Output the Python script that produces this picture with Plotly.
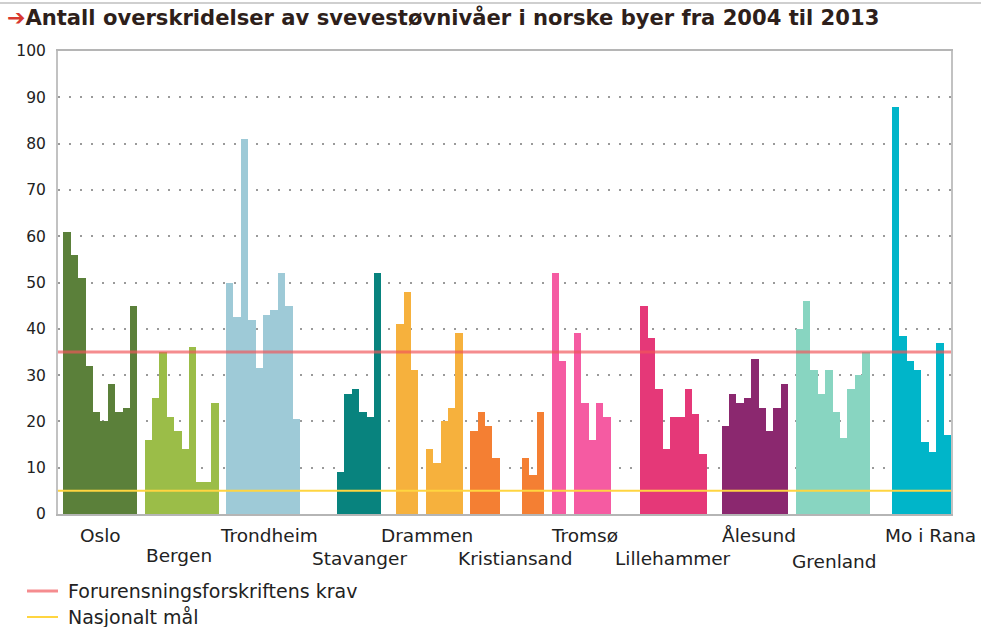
import plotly.graph_objects as go

# ---------------- data ----------------
cities = ["Oslo", "Bergen", "Trondheim", "Stavanger", "Drammen", "Kristiansand",
          "Tromsø", "Lillehammer", "Ålesund", "Grenland", "Mo i Rana"]
years = [2004, 2005, 2006, 2007, 2008, 2009, 2010, 2011, 2012, 2013]

oslo = [61, 56, 51, 32, 22, 20, 28, 22, 23, 45]
bergen = [16, 25, 35, 21, 18, 14, 36, 7, 7, 24]
trondheim = [50, 42.5, 81, 42, 31.5, 43, 44, 52, 45, 20.5]
stavanger = [None, None, None, None, 9, 26, 27, 22, 21, 52]
drammen = [None, 41, 48, 31, None, 14, 11, 20, 23, 39]
kristiansand = [18, 22, 19, 12, None, None, None, 12, 8.5, 22]
tromso = [52, 33, None, 39, 24, 16, 24, 21, None, None]
lillehammer = [None, 45, 38, 27, 14, 21, 21, 27, 21.5, 13]
alesund = [None, 19, 26, 24, 25, 33.5, 23, 18, 23, 28]
grenland = [40, 46, 31, 26, 31, 22, 16.5, 27, 30, 35]
mo_i_rana = [None, None, 88, 38.5, 33, 31, 15.5, 13.5, 37, 17]

series = [oslo, bergen, trondheim, stavanger, drammen, kristiansand,
          tromso, lillehammer, alesund, grenland, mo_i_rana]

krav = 35            # Forurensningsforskriftens krav
nasjonalt_maal = 5   # Nasjonalt mål
y_ticks = [0, 10, 20, 30, 40, 50, 60, 70, 80, 90, 100]

# ---------------- style ----------------
colors = ["#5b803a", "#9bbd48", "#9ecad7", "#08837e", "#f6b13d", "#f47f33",
          "#f55ba2", "#e53878", "#8b286f", "#88d5c1", "#00b5c9"]
label_shift = [0, -0.4, 0.8, 2.0, 0.2, 1.0, -0.6, 0.4, 1.1, 0.3, 2.2]
label_row = [-21, -41, -21, -44, -21, -44, -21, -44, -21, -47, -21]
group = len(years) + 1
x_range = [-1.22, 119.5]
FONT = "DejaVu Sans"
red = "rgba(240,85,90,0.68)"
yellow = "#ffd540"

fig = go.Figure()
for i, (city, vals, col) in enumerate(zip(cities, series, colors)):
    xs = [i * group + j for j in range(len(years))]
    fig.add_trace(go.Bar(x=xs, y=vals, width=1, name=city, showlegend=False,
                         marker=dict(color=col, line=dict(width=0))))

fig.add_trace(go.Scatter(x=x_range, y=[krav, krav], mode="lines", showlegend=False,
                         line=dict(color=red, width=3)))
fig.add_trace(go.Scatter(x=x_range, y=[nasjonalt_maal, nasjonalt_maal], mode="lines",
                         showlegend=False, line=dict(color=yellow, width=2)))

annotations = []
for i, city in enumerate(cities):
    annotations.append(dict(x=i * group + (len(years) - 1) / 2 + label_shift[i], y=0,
                            xref="x", yref="paper", text=city, showarrow=False,
                            xanchor="center", yanchor="middle", yshift=label_row[i],
                            font=dict(family=FONT, size=18.5, color="#222222")))

W, H = 981, 627
L, R, T, B = 58, 30, 51, 113
pw, ph = W - L - R, H - T - B


def px_x(p):
    return (p - L) / pw


def px_y(p):
    return (H - B - p) / ph


# title
annotations.append(dict(x=px_x(5), y=px_y(18), xref="paper", yref="paper", showarrow=False,
                        xanchor="left", yanchor="middle",
                        text="<b><span style='color:#d8382f;font-size:22px'>➔</span>Antall overskridelser av svevestøvnivåer i norske byer fra 2004 til 2013</b>",
                        font=dict(family=FONT, size=21.1, color="#2e1f1b")))

shapes = [dict(type="line", xref="paper", yref="paper", x0=px_x(0), x1=px_x(W),
               y0=px_y(3), y1=px_y(3), line=dict(color="#cfcfcf", width=2))]

# manual legend
legend_items = [("Forurensningsforskriftens krav", red, 3, 591),
                ("Nasjonalt mål", yellow, 2, 617)]
for name, col, w, py in legend_items:
    shapes.append(dict(type="line", xref="paper", yref="paper", x0=px_x(27), x1=px_x(58),
                       y0=px_y(py), y1=px_y(py), line=dict(color=col, width=w)))
    annotations.append(dict(x=px_x(66), y=px_y(py), xref="paper", yref="paper",
                            showarrow=False, xanchor="left", yanchor="middle", text=name,
                            font=dict(family=FONT, size=19, color="#222222")))

fig.update_layout(
    width=W, height=H, margin=dict(l=L, r=R, t=T, b=B),
    paper_bgcolor="white", plot_bgcolor="white",
    barmode="overlay", bargap=0, showlegend=False,
    annotations=annotations, shapes=shapes,
    xaxis=dict(range=x_range, showticklabels=False, showgrid=False, zeroline=False,
               showline=True, linecolor="#b5b5b5", linewidth=2, mirror=True, ticks=""),
    yaxis=dict(range=[0, 100], tickvals=y_ticks, showgrid=True, gridcolor="#9a9a9a",
               griddash="2px,9px", gridwidth=1.5, zeroline=False,
               showline=True, linecolor="#c2c2c2", linewidth=2, mirror=True, ticks="",
               ticklabelstandoff=7,
               tickfont=dict(family=FONT, size=15.5, color="#222222")),
)

fig.write_html("out.html", config={"displayModeBar": False},
               post_script="document.body.style.margin='0';document.body.style.overflow='hidden';")
